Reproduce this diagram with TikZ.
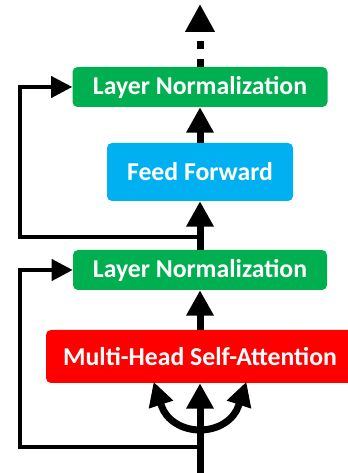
\documentclass[tikz,border=0pt]{standalone}
\usepackage{fontspec}
\setmainfont{Carlito}
\usetikzlibrary{arrows.meta}
\begin{document}
\begin{tikzpicture}[x=0.75pt,y=0.75pt,
  blk/.style={rounded corners=3.75pt, text=white, inner sep=0pt,
    font=\bfseries\fontsize{19.3}{22}\selectfont},
  fat/.style={line width=5.25pt,-{Triangle[width=19.5pt,length=19pt]}},
  res/.style={line width=3pt,-{Triangle[width=15.75pt,length=15.75pt]}}]
\useasboundingbox (0,0) rectangle (347,473);
\definecolor{lnColor}{RGB}{0,176,80}
\definecolor{ffColor}{RGB}{0,176,240}
\definecolor{mhColor}{RGB}{255,0,0}
% boxes
\node[blk,fill=lnColor,minimum width=191.25pt,minimum height=30pt] (ln2) at (200,386) {Layer Normalization};
\node[blk,fill=ffColor,minimum width=139.5pt,minimum height=43.5pt] (ff) at (200,301) {Feed Forward};
\node[blk,fill=lnColor,minimum width=190.5pt,minimum height=30pt] (ln1) at (200,203) {Layer Normalization};
\node[blk,fill=mhColor,minimum width=231pt,minimum height=39.75pt] (mhsa) at (200,116.5) {Multi-Head Self-Attention};
% main path
\coordinate (in) at (200,0);
\coordinate (split) at (200,43);
\coordinate (out) at (200,469);
\draw[fat] (in) -- (mhsa.south);
\foreach \e/\d in {195/108,345/72}
  \draw[fat,-{Triangle[width=18pt,length=18pt]}] (split) arc[start angle=270,end angle=\e,x radius=40,y radius=33] -- ++(\d:25);
\draw[fat] (mhsa.north) -- (ln1.south);
\draw[fat] (ln1.north) -- (ff.south);
\draw[fat] (ff.north) -- (ln2.south);
\draw[fat,dash pattern=on 6pt off 7.5pt,-{Triangle[width=21pt,length=21pt]}] (ln2.north) -- (out);
% residuals
\coordinate (skip1) at (200,26);
\coordinate (skip2) at (200,236);
\draw[res] (skip1) -- (20,26) |- (ln1.west);
\draw[res] (skip2) -- (20,236) |- (ln2.west);
\end{tikzpicture}
\end{document}
